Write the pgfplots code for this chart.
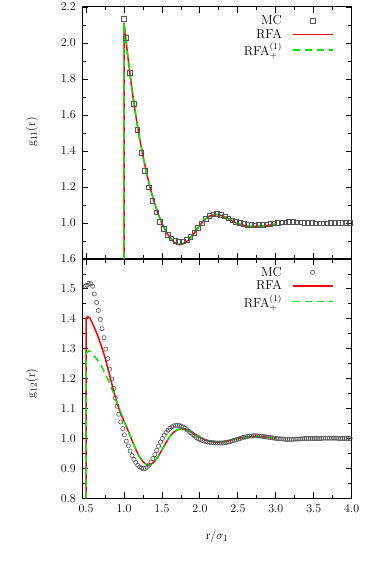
\documentclass[border=0pt]{standalone}
\usepackage{pgfplots}
\pgfplotsset{compat=1.18}
\definecolor{rfared}{RGB}{255,0,0}
\definecolor{rfagreen}{RGB}{0,230,0}
\definecolor{mcgray}{RGB}{85,85,85}
\newcommand{\fnt}{\fontsize{13}{15}\selectfont}

\pgfplotstableread{
x y
1.000 2.133
1.025 2.028
1.075 1.833
1.125 1.663
1.175 1.518
1.225 1.390
1.275 1.290
1.325 1.198
1.375 1.122
1.425 1.059
1.475 1.007
1.525 0.967
1.575 0.935
1.625 0.914
1.675 0.902
1.725 0.896
1.775 0.898
1.825 0.906
1.875 0.922
1.925 0.945
1.975 0.972
2.025 0.998
2.075 1.022
2.125 1.040
2.175 1.049
2.225 1.050
2.275 1.046
2.325 1.037
2.375 1.027
2.425 1.016
2.475 1.007
2.525 1.000
2.575 0.994
2.625 0.990
2.675 0.989
2.725 0.988
2.775 0.989
2.825 0.990
2.875 0.992
2.925 0.995
2.975 0.998
3.025 1.000
3.075 1.003
3.125 1.004
3.175 1.005
3.225 1.005
3.275 1.004
3.325 1.003
3.375 1.002
3.425 1.001
3.475 1.000
3.525 0.999
3.575 0.999
3.625 0.999
3.675 0.999
3.725 1.000
3.775 1.000
3.825 1.001
3.875 1.001
3.925 1.001
3.975 1.000
}\gtopmc

\pgfplotstableread{
x y
1.000 0.800
1.000 2.110
1.025 2.020
1.050 1.925
1.100 1.755
1.150 1.610
1.200 1.482
1.250 1.370
1.300 1.272
1.350 1.185
1.400 1.112
1.450 1.050
1.500 0.998
1.550 0.955
1.600 0.920
1.650 0.896
1.700 0.882
1.750 0.880
1.800 0.888
1.850 0.905
1.900 0.930
1.950 0.958
2.000 0.988
2.050 1.013
2.100 1.032
2.150 1.043
2.200 1.047
2.250 1.045
2.300 1.038
2.350 1.028
2.400 1.017
2.450 1.006
2.500 0.997
2.550 0.990
2.600 0.985
2.650 0.982
2.700 0.981
2.750 0.981
2.800 0.982
2.850 0.984
2.900 0.987
2.950 0.990
3.000 0.993
}\gtopred

\pgfplotstableread{
x y
1.000 0.800
1.000 2.112
1.025 2.021
1.050 1.926
1.100 1.756
1.150 1.611
1.200 1.483
1.250 1.371
1.300 1.273
1.350 1.186
1.400 1.113
1.450 1.051
1.500 0.999
1.550 0.956
1.600 0.921
1.650 0.897
1.700 0.883
1.750 0.881
1.800 0.889
1.850 0.906
1.900 0.931
1.950 0.959
2.000 0.989
2.050 1.014
2.100 1.033
2.150 1.044
2.200 1.048
2.250 1.046
2.300 1.039
2.350 1.029
2.400 1.018
2.450 1.007
2.500 0.998
2.550 0.991
2.600 0.986
2.650 0.983
2.700 0.982
2.750 0.982
2.800 0.983
2.850 0.985
2.900 0.988
2.950 0.991
3.000 0.994
}\gtopgreen

\pgfplotstableread{
x y
0.490 1.509
0.512 1.512
0.538 1.519
0.565 1.517
0.587 1.509
0.608 1.483
0.640 1.455
0.661 1.428
0.688 1.398
0.710 1.367
0.736 1.337
0.759 1.299
0.785 1.267
0.811 1.232
0.838 1.199
0.864 1.167
0.885 1.135
0.908 1.108
0.930 1.081
0.956 1.055
0.983 1.033
1.004 1.012
1.030 0.991
1.057 0.975
1.080 0.958
1.105 0.943
1.130 0.930
1.155 0.920
1.180 0.911
1.205 0.905
1.230 0.901
1.255 0.899
1.280 0.900
1.305 0.904
1.330 0.911
1.355 0.921
1.380 0.933
1.405 0.946
1.430 0.960
1.455 0.974
1.480 0.988
1.505 1.000
1.530 1.011
1.555 1.020
1.580 1.028
1.605 1.034
1.630 1.039
1.655 1.042
1.680 1.044
1.705 1.044
1.730 1.043
1.755 1.041
1.780 1.038
1.805 1.034
1.830 1.029
1.855 1.024
1.880 1.019
1.905 1.013
1.930 1.008
1.955 1.003
1.980 0.999
2.005 0.996
2.030 0.993
2.055 0.991
2.080 0.989
2.105 0.988
2.130 0.987
2.155 0.986
2.180 0.986
2.205 0.985
2.230 0.985
2.255 0.985
2.280 0.985
2.305 0.985
2.330 0.986
2.355 0.987
2.380 0.988
2.405 0.990
2.430 0.992
2.455 0.994
2.480 0.996
2.505 0.998
2.530 1.000
2.555 1.002
2.580 1.004
2.605 1.005
2.630 1.007
2.655 1.008
2.680 1.008
2.705 1.009
2.730 1.009
2.755 1.009
2.780 1.008
2.805 1.008
2.830 1.007
2.855 1.006
2.880 1.005
2.905 1.004
2.930 1.003
2.955 1.002
2.980 1.001
3.005 1.000
3.030 0.999
3.055 0.999
3.080 0.998
3.105 0.998
3.130 0.997
3.155 0.997
3.180 0.997
3.205 0.997
3.230 0.997
3.255 0.998
3.280 0.998
3.305 0.998
3.330 0.999
3.355 0.999
3.380 1.000
3.405 1.000
3.430 1.000
3.455 1.000
3.480 1.000
3.505 1.000
3.530 1.000
3.555 1.000
3.580 1.000
3.605 1.000
3.630 1.001
3.655 1.001
3.680 1.001
3.705 1.001
3.730 1.001
3.755 1.001
3.780 1.001
3.805 1.001
3.830 1.000
3.855 1.000
3.880 1.000
3.905 1.000
3.930 1.000
3.955 1.000
3.980 1.000
}\gbotmc

\pgfplotstableread{
x y
0.500 0.800
0.500 1.400
0.520 1.408
0.550 1.402
0.600 1.376
0.650 1.346
0.700 1.310
0.750 1.270
0.800 1.222
0.850 1.172
0.900 1.125
0.950 1.087
1.000 1.058
1.050 1.028
1.100 0.997
1.150 0.966
1.200 0.940
1.250 0.922
1.300 0.912
1.330 0.911
1.350 0.913
1.400 0.922
1.450 0.940
1.500 0.962
1.550 0.985
1.600 1.005
1.650 1.020
1.700 1.029
1.750 1.032
1.800 1.031
1.850 1.027
1.900 1.020
1.950 1.012
2.000 1.005
2.050 0.998
2.100 0.993
2.150 0.990
2.200 0.988
2.250 0.988
2.300 0.989
2.350 0.991
2.400 0.994
2.450 0.997
2.500 1.000
2.550 1.003
2.600 1.005
2.650 1.006
2.700 1.007
2.750 1.007
2.800 1.006
2.850 1.005
2.900 1.004
2.950 1.003
3.000 1.002
}\gbotred

\pgfplotstableread{
x y
0.500 0.800
0.500 1.285
0.530 1.293
0.560 1.290
0.600 1.278
0.650 1.262
0.700 1.243
0.750 1.218
0.800 1.190
0.850 1.160
0.900 1.126
0.950 1.090
1.000 1.059
1.050 1.028
1.100 0.997
1.150 0.966
1.200 0.940
1.250 0.922
1.300 0.912
1.330 0.911
1.350 0.913
1.400 0.922
1.450 0.940
1.500 0.962
1.550 0.985
1.600 1.005
1.650 1.020
1.700 1.029
1.750 1.032
1.800 1.031
1.850 1.027
1.900 1.020
1.950 1.012
2.000 1.005
2.050 0.998
2.100 0.993
2.150 0.990
2.200 0.988
2.250 0.988
2.300 0.989
2.350 0.991
2.400 0.994
2.450 0.997
2.500 1.000
2.550 1.003
2.600 1.005
2.650 1.006
2.700 1.007
2.750 1.007
2.800 1.006
2.850 1.005
2.900 1.004
2.950 1.003
3.000 1.002
}\gbotgreen

\pgfplotsset{
  panel/.style={
    scale only axis, width=269.4pt,
    xmin=0.45, xmax=4.0,
    xtick={0.5,1,...,4}, minor x tick num=1, minor y tick num=1,
    tick align=inside, major tick length=6pt, minor tick length=3.5pt,
    axis line style={line width=1pt},
    every tick/.style={black, line width=0.9pt},
    yticklabel={$\pgfmathprintnumber[fixed,fixed zerofill,precision=1]{\tick}$},
    tick label style={font=\fnt},
    yticklabel style={xshift=-3pt},
    xticklabel style={yshift=-3pt},
    label style={font=\fnt},
    legend style={draw=none, fill=none, font=\fnt, inner sep=0pt, outer sep=0pt,
      row sep=-1pt, column sep=8pt, anchor=north east},
    legend cell align=right, legend plot pos=right,
  },
  mcsq/.style={only marks, mark=square, mark size=2.3pt, color=mcgray, mark options={draw=mcgray, line width=0.6pt, fill=none}},
  mcci/.style={only marks, mark=o, mark size=2.1pt, color=mcgray, mark options={draw=mcgray, line width=0.6pt, fill=none}},
  rfa/.style={no marks, draw=rfared, color=rfared, line width=1.5pt, line join=round},
  rfp/.style={no marks, draw=rfagreen, color=rfagreen, line width=1.5pt, dash pattern=on 7pt off 5pt, line join=round},
  mclegend/.style={legend image code/.code={\draw[##1] plot coordinates {(20pt,0pt)};}},
  lnlegend/.style={legend image code/.code={\draw[##1] (0pt,0pt) -- (40pt,0pt);}},
}

\begin{document}
\begin{tikzpicture}
\useasboundingbox (-82.3pt,0pt) rectangle (291.7pt,561pt);
% top panel
\begin{axis}[panel, at={(0pt,302pt)}, anchor=south west, height=252pt,
  ymin=0.8, ymax=2.2, ytick={1.0,1.2,...,2.2}, minor ytick={0.9,1.1,...,2.1},
  xticklabels={},
  ylabel={$\mathrm{g}_{11}(\mathrm{r})$},
  ylabel style={at={(axis description cs:-0.187,0.504)}, anchor=center},
  legend style={at={(axis description cs:0.932,0.975)}},
]
\addplot[mcsq, forget plot] table {\gtopmc};
\addplot[rfa, forget plot] table {\gtopred};
\addplot[rfp, forget plot] table {\gtopgreen};
\addlegendimage{mcsq, mclegend}
\addlegendentry{MC}
\addlegendimage{rfa, lnlegend}
\addlegendentry{RFA}
\addlegendimage{rfp, lnlegend}
\addlegendentry{RFA$_+^{(1)}$}
\end{axis}
% bottom panel
\begin{axis}[panel, at={(0pt,62.7pt)}, anchor=south west, height=239.3pt,
  ymin=0.8, ymax=1.6, ytick={0.8,0.9,...,1.6},
  xticklabel={$\pgfmathprintnumber[fixed,fixed zerofill,precision=1]{\tick}$},
  xlabel={$\mathrm{r}/\sigma_1$},
  xlabel style={at={(axis description cs:0.5,-0.161)}, anchor=center},
  ylabel={$\mathrm{g}_{12}(\mathrm{r})$},
  ylabel style={at={(axis description cs:-0.187,0.48)}, anchor=center},
  legend style={at={(axis description cs:0.932,0.975)}},
]
\addplot[mcci, forget plot] table {\gbotmc};
\addplot[rfa, forget plot] table {\gbotred};
\addplot[rfp, forget plot] table {\gbotgreen};
\addlegendimage{mcci, mclegend}
\addlegendentry{MC}
\addlegendimage{rfa, lnlegend}
\addlegendentry{RFA}
\addlegendimage{rfp, lnlegend}
\addlegendentry{RFA$_+^{(1)}$}
\end{axis}
\end{tikzpicture}
\end{document}
